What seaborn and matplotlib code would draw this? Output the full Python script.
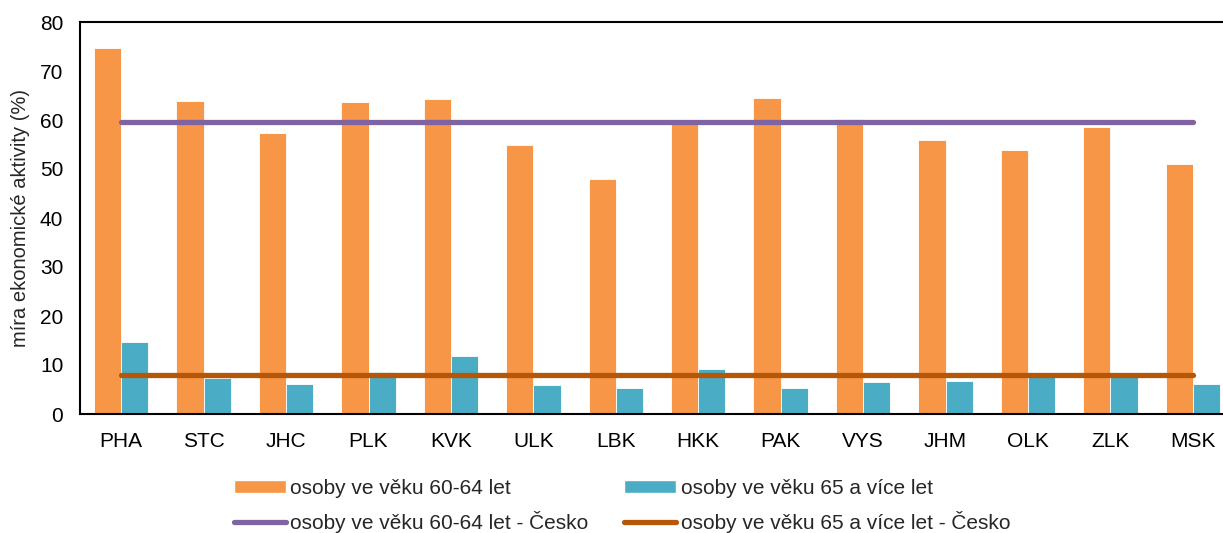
import numpy as np
import pandas as pd
import matplotlib
matplotlib.use('Agg')
import matplotlib.pyplot as plt
import seaborn as sns
from matplotlib.patches import Patch
from matplotlib.lines import Line2D

# Data
kraje = ['PHA', 'STC', 'JHC', 'PLK', 'KVK', 'ULK', 'LBK', 'HKK', 'PAK', 'VYS', 'JHM', 'OLK', 'ZLK', 'MSK']
vek_60_64 = [74.6, 63.9, 57.3, 63.6, 64.2, 54.8, 47.9, 59.3, 64.4, 60.2, 55.9, 53.9, 58.6, 51.0]
vek_65_plus = [14.7, 7.3, 6.1, 8.6, 11.8, 5.9, 5.3, 9.2, 5.4, 6.5, 6.8, 7.5, 7.5, 6.1]
cesko_60_64 = 59.5
cesko_65_plus = 7.9

lbl_a = 'osoby ve věku 60-64 let'
lbl_b = 'osoby ve věku 65 a více let'
lbl_c = 'osoby ve věku 60-64 let - Česko'
lbl_d = 'osoby ve věku 65 a více let - Česko'

c_orange = '#F79646'
c_blue = '#4BACC6'
c_purple = '#8064A2'
c_brown = '#B65708'

sns.set_style('white')
plt.rcParams['font.family'] = ['Liberation Sans', 'DejaVu Sans']

df = pd.DataFrame({
    'kraj': kraje * 2,
    'hodnota': vek_60_64 + vek_65_plus,
    'skupina': [lbl_a] * len(kraje) + [lbl_b] * len(kraje),
})

fig = plt.figure(figsize=(12.23, 5.33), dpi=100)
ax = fig.add_axes([80 / 1223, 119 / 533, 1154 / 1223, 392 / 533])

sns.barplot(data=df, x='kraj', y='hodnota', hue='skupina', order=kraje,
            palette=[c_orange, c_blue], saturation=1, width=0.66, gap=0, dodge=True,
            edgecolor='white', linewidth=0.6, legend=False, ax=ax)

# national averages drawn across all regions
pos = np.arange(len(kraje))
ax.plot(pos, [cesko_60_64] * len(kraje), color=c_purple, lw=3.8, solid_capstyle='round')
ax.plot(pos, [cesko_65_plus] * len(kraje), color=c_brown, lw=3.8, solid_capstyle='round')

ax.set_xlim(-0.5, len(kraje) - 0.5)
ax.set_ylim(0, 80)
ax.set_yticks(range(0, 81, 10))
ax.set_xlabel('')
ax.set_ylabel('míra ekonomické aktivity (%)', fontsize=14.5, labelpad=7)
ax.tick_params(axis='both', length=0, labelsize=15, colors='black')
ax.tick_params(axis='y', pad=12)
ax.tick_params(axis='x', pad=13)
for s in ['left', 'top', 'bottom', 'right']:
    ax.spines[s].set_color('black')
    ax.spines[s].set_linewidth(1.5)

handles = [
    Patch(facecolor=c_orange, label=lbl_a),
    Line2D([0], [0], color=c_purple, lw=3.8, solid_capstyle='round', label=lbl_c),
    Patch(facecolor=c_blue, label=lbl_b),
    Line2D([0], [0], color=c_brown, lw=3.8, solid_capstyle='round', label=lbl_d),
]
fig.legend(handles=handles, ncol=2, loc='center', bbox_to_anchor=(622 / 1223, 27 / 533),
           frameon=False, fontsize=15, handlelength=2.5, handleheight=0.6,
           handletextpad=0.22, columnspacing=1.7, labelspacing=0.65)

fig.savefig('out.png', dpi=100)
plt.close(fig)
